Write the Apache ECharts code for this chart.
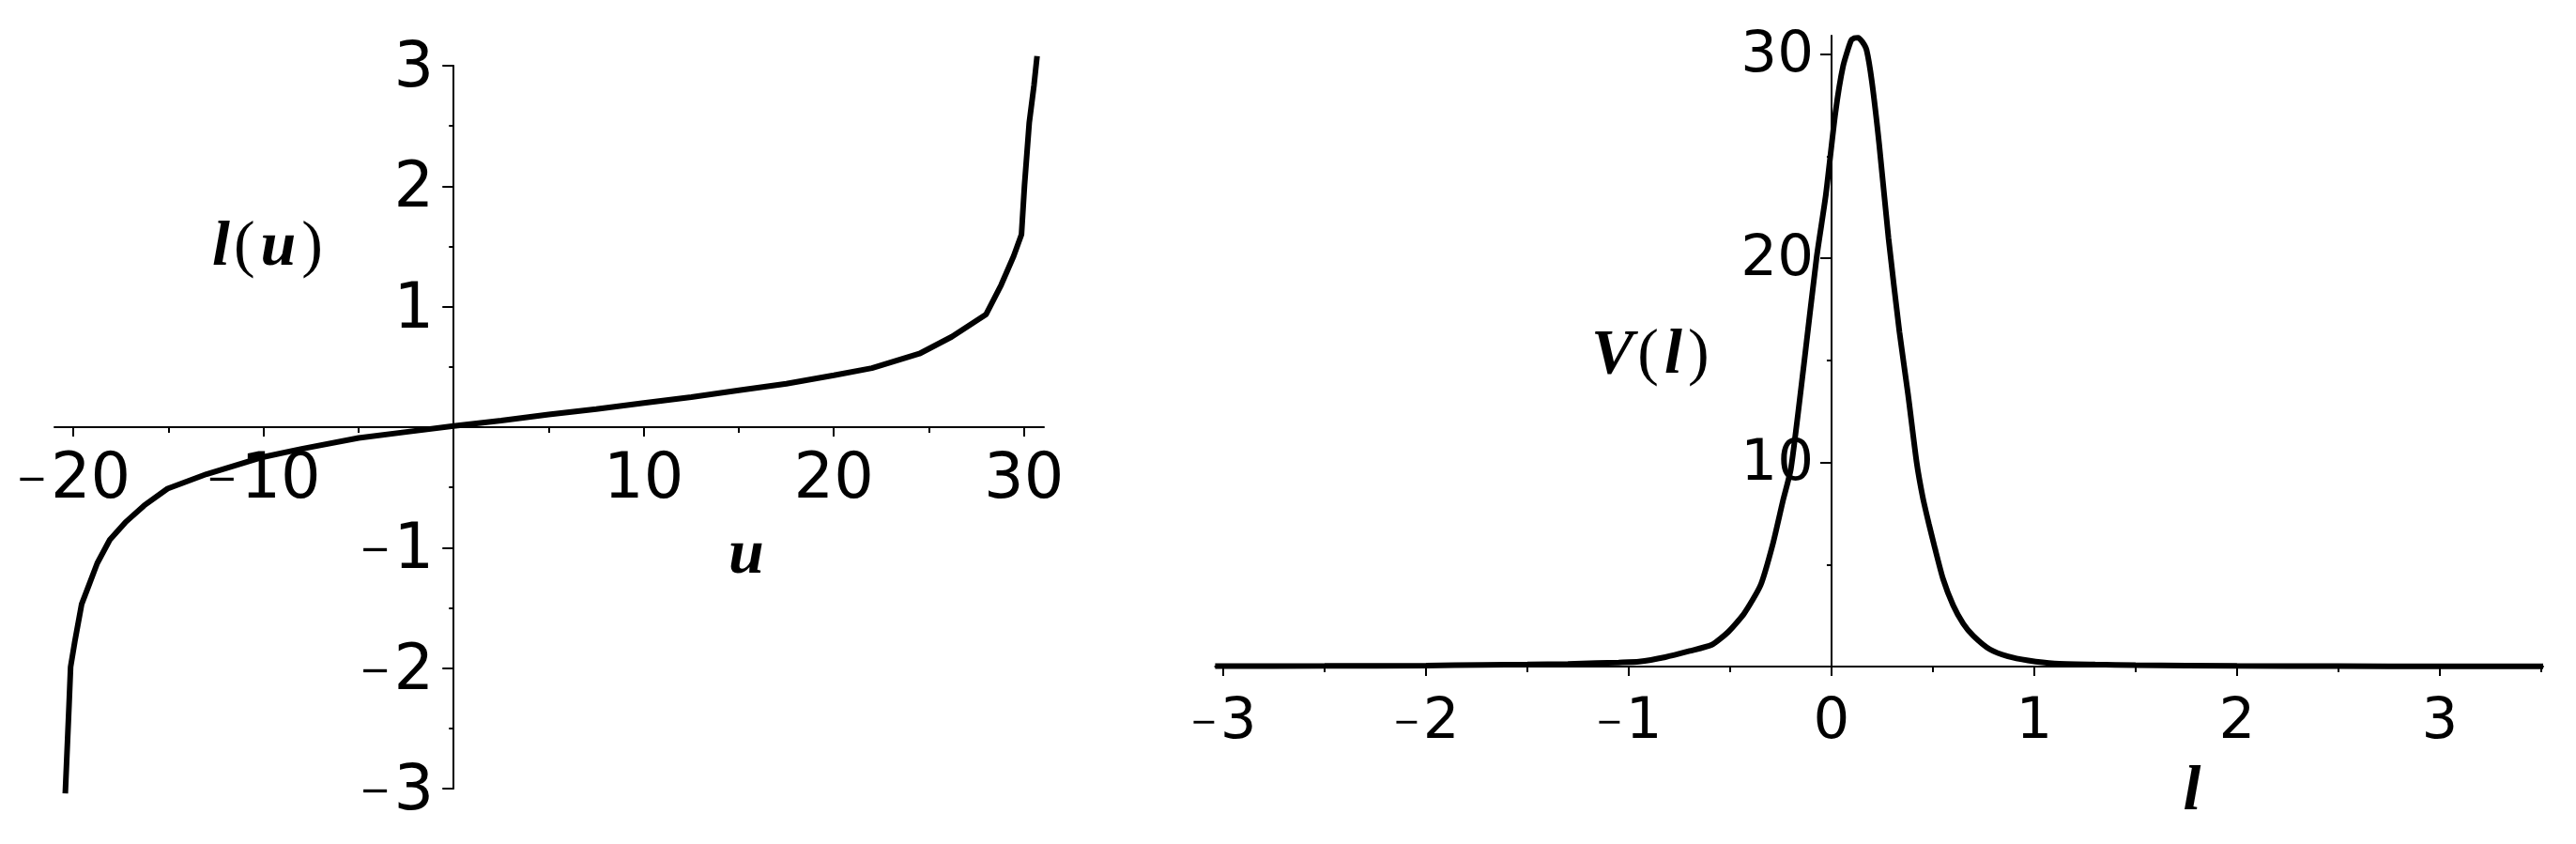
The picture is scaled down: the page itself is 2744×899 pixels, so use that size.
<!DOCTYPE html>
<html><head><meta charset="utf-8">
<script src="https://cdn.jsdelivr.net/npm/echarts@6/dist/echarts.min.js"></script>
<style>html,body{margin:0;padding:0;background:#fff;}#c{width:2744px;height:899px;}</style>
</head><body><div id="c"></div>
<script>
// ---- Left panel: l(u) ----
const uValues = [-20.43, -20.23, -20.15, -19.93, -19.57, -19.16, -18.75, -18.09, -17.27, -16.28,
  -15.05, -13.0, -10.0, -8.0, -5.0, -2.5, 0, 2.5, 5, 7.5,
  10, 12.5, 15, 17.5, 20, 22, 24.5, 26.2, 28.0, 28.8,
  29.46, 29.87, 30.03, 30.28, 30.53, 30.69];
const lOfU = [-3.04, -2.30, -1.99, -1.78, -1.47, -1.30, -1.13, -0.935, -0.79, -0.65,
  -0.51, -0.39, -0.247, -0.18, -0.09, -0.04, 0.01, 0.055, 0.105, 0.15,
  0.2, 0.25, 0.306, 0.36, 0.43, 0.49, 0.61, 0.75, 0.935, 1.18,
  1.42, 1.60, 2.01, 2.53, 2.84, 3.08];
// ---- Right panel: V(l) ----
const lValues = [-3.04, -2.5, -2.0, -1.72, -1.5, -1.3, -1.16, -1.05, -0.95, -0.82,
  -0.70, -0.59, -0.51, -0.43, -0.35, -0.29, -0.24, -0.2, -0.136, -0.074,
  -0.028, 0.019, 0.057, 0.096, 0.113, 0.131, 0.152, 0.173, 0.199, 0.235,
  0.281, 0.335, 0.378, 0.42, 0.45, 0.48, 0.51, 0.55, 0.6, 0.65,
  0.7, 0.78, 0.87, 0.97, 1.1, 1.3, 1.5, 2.0, 2.5, 3.0, 3.51];
const vOfL = [0.02, 0.03, 0.05, 0.08, 0.1, 0.13, 0.17, 0.2, 0.24, 0.46,
  0.76, 1.07, 1.69, 2.61, 3.98, 5.98, 8.1, 9.7, 14.8, 20.0,
  23.1, 27.1, 29.4, 30.65, 30.78, 30.8, 30.6, 30.2, 28.66, 25.6,
  21.0, 16.4, 13.3, 10.0, 8.3, 7.0, 5.8, 4.3, 3.0, 2.1,
  1.5, 0.85, 0.5, 0.3, 0.15, 0.1, 0.07, 0.03, 0.02, 0.01, 0.01];
// ---- tick values ----
const leftXLabels = [-20, -10, 10, 20, 30];
const leftXMajorTicks = [-20, -10, 0, 10, 20, 30];
const leftXMinorTicks = [-15, -5, 5, 15, 25];
const leftYLabels = [-3, -2, -1, 1, 2, 3];
const leftYMajorTicks = [-3, -2, -1, 0, 1, 2, 3];
const leftYMinorTicks = [-2.5, -1.5, -0.5, 0.5, 1.5, 2.5];
const rightXLabels = [-3, -2, -1, 0, 1, 2, 3];
const rightXMinorTicks = [-2.5, -1.5, -0.5, 0.5, 1.5, 2.5, 3.5];
const rightYLabels = [10, 20, 30];
const rightYMajorTicks = [0, 10, 20, 30];
const rightYMinorTicks = [5, 15, 25];

const leftCurve = uValues.map((u, i) => [u, lOfU[i]]);
const rightCurve = lValues.map((l, i) => [l, vOfL[i]]);

// axis ranges
const LX = [-21, 31.05], LY = [-3, 3];
const RX = [-3.04, 3.51], RY = [0, 30.9];
// grid boxes (pixels)
const G0 = { left: 58, top: 70, width: 1054, height: 770 };
const G1 = { left: 1294.4, top: 38, width: 1414.6, height: 672 };
// offsets so that axes cross at zero (negative offset moves axis inward)
const g0xOff = -(G0.height * (LY[1] - 0) / (LY[1] - LY[0]) - G0.height) * -1; // placeholder, computed below
const g0ZeroY = G0.top + G0.height * (LY[1] - 0) / (LY[1] - LY[0]);
const g0ZeroX = G0.left + G0.width * (0 - LX[0]) / (LX[1] - LX[0]);
const g1ZeroX = G1.left + G1.width * (0 - RX[0]) / (RX[1] - RX[0]);
const offX0 = g0ZeroY - (G0.top + G0.height);   // negative
const offY0 = -(g0ZeroX - G0.left);             // negative
const offY1 = -(g1ZeroX - G1.left);

const tickFont = 'DejaVu Sans';
function richFor(size, msize) {
  return {
    d: { fontFamily: tickFont, fontSize: size, color: '#000' },
    m: { fontFamily: tickFont, fontSize: msize, color: '#000', padding: [0, 3, 0, 0] }
  };
}
function fmt(v) {
  return v < 0 ? '{m|\u2212}{d|' + Math.abs(v) + '}' : '{d|' + v + '}';
}
const black = { color: '#000', width: 2 };

function axis(o) {
  return Object.assign({
    type: 'value',
    splitLine: { show: false },
    axisLabel: { show: false }
  }, o);
}

const chart = echarts.init(document.getElementById('c'), null, { renderer: 'canvas' });
const nameRich = (size) => ({
  b: { fontFamily: 'Liberation Serif', fontWeight: 'bold', fontStyle: 'italic', fontSize: size, fill: '#000' },
  lp: { fontFamily: 'Liberation Serif', fontSize: size, fill: '#000', padding: [0, 6, 0, 4] },
  rp: { fontFamily: 'Liberation Serif', fontSize: size, fill: '#000', padding: [0, 0, 0, 6] }
});

chart.setOption({
  animation: false,
  backgroundColor: '#fff',
  grid: [
    Object.assign({ containLabel: false, outerBoundsMode: 'none' }, G0),
    Object.assign({ containLabel: false, outerBoundsMode: 'none' }, G1)
  ],
  xAxis: [
    axis({ gridIndex: 0, min: LX[0], max: LX[1], position: 'bottom', offset: offX0,
      axisLine: { show: true, onZero: false, lineStyle: black },
      axisTick: { show: true, length: 10, lineStyle: black, customValues: leftXMajorTicks },
      axisLabel: { show: true, customValues: leftXLabels, margin: 24, formatter: fmt, rich: richFor(67, 40) } }),
    axis({ gridIndex: 0, min: LX[0], max: LX[1], position: 'bottom', offset: offX0,
      axisLine: { show: false, onZero: false },
      axisTick: { show: true, length: 6, lineStyle: black, customValues: leftXMinorTicks } }),
    axis({ gridIndex: 1, min: RX[0], max: RX[1], position: 'bottom', offset: 0,
      axisLine: { show: true, onZero: false, lineStyle: black },
      axisTick: { show: true, length: 10, lineStyle: black, customValues: rightXLabels },
      axisLabel: { show: true, customValues: rightXLabels, margin: 30, formatter: fmt, rich: richFor(61, 35) } }),
    axis({ gridIndex: 1, min: RX[0], max: RX[1], position: 'bottom', offset: 0,
      axisLine: { show: false, onZero: false },
      axisTick: { show: true, length: 6, lineStyle: black, customValues: rightXMinorTicks } })
  ],
  yAxis: [
    axis({ gridIndex: 0, min: LY[0], max: LY[1], position: 'left', offset: offY0,
      axisLine: { show: true, onZero: false, lineStyle: black },
      axisTick: { show: true, length: 12, lineStyle: black, customValues: leftYMajorTicks },
      axisLabel: { show: true, customValues: leftYLabels, margin: 21, formatter: fmt, rich: richFor(67, 40), padding: [9, 0, 0, 0] } }),
    axis({ gridIndex: 0, min: LY[0], max: LY[1], position: 'left', offset: offY0,
      axisLine: { show: false, onZero: false },
      axisTick: { show: true, length: 5, lineStyle: black, customValues: leftYMinorTicks } }),
    axis({ gridIndex: 1, min: RY[0], max: RY[1], position: 'left', offset: offY1,
      axisLine: { show: true, onZero: false, lineStyle: black },
      axisTick: { show: true, length: 12, lineStyle: black, customValues: rightYMajorTicks },
      axisLabel: { show: true, customValues: rightYLabels, margin: 19, formatter: fmt, rich: richFor(61, 35), padding: [5, 0, 0, 0] } }),
    axis({ gridIndex: 1, min: RY[0], max: RY[1], position: 'left', offset: offY1,
      axisLine: { show: false, onZero: false },
      axisTick: { show: true, length: 5, lineStyle: black, customValues: rightYMinorTicks } })
  ],
  series: [
    { type: 'line', xAxisIndex: 0, yAxisIndex: 0, data: leftCurve, showSymbol: false, clip: false,
      lineStyle: { color: '#000', width: 6 }, silent: true },
    { type: 'line', xAxisIndex: 2, yAxisIndex: 2, data: rightCurve, showSymbol: false, clip: false,
      smooth: 0.2, lineStyle: { color: '#000', width: 6 }, silent: true }
  ],
  graphic: [
    { type: 'text', x: 226, y: 264, style: { text: '{b|l}{lp|(}{b|u}{rp|)}', rich: nameRich(68), align: 'left', verticalAlign: 'middle' } },
    { type: 'text', x: 795, y: 592, style: { text: '{b|u}', rich: nameRich(68), align: 'center', verticalAlign: 'middle' } },
    { type: 'text', x: 1695, y: 379, style: { text: '{b|V}{lp|(}{b|l}{rp|)}', rich: nameRich(68), align: 'left', verticalAlign: 'middle' } },
    { type: 'text', x: 2335, y: 844, style: { text: '{b|l}', rich: nameRich(68), align: 'center', verticalAlign: 'middle' } }
  ]
});
</script></body></html>
